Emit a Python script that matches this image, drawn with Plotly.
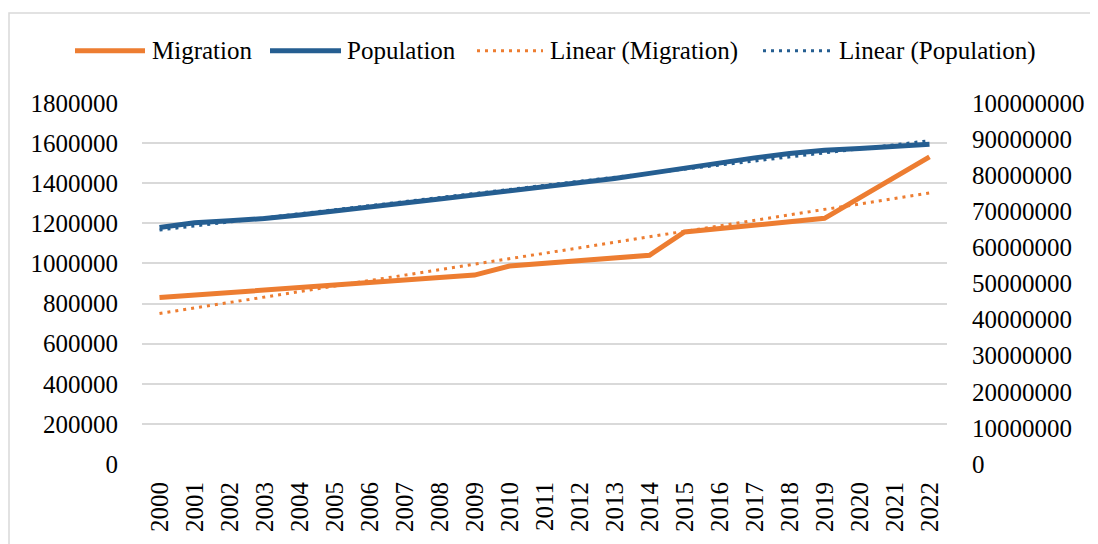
import numpy as np
import plotly.graph_objects as go

years = [str(y) for y in range(2000, 2023)]
migration = [830000, 842000, 855000, 867000, 880000, 892000, 904000, 917000, 929000, 942000,
             987000, 1001000, 1014000, 1028000, 1041000, 1157000, 1174000, 1191000, 1208000,
             1225000, 1327000, 1429000, 1531000]
population = [65500000, 66800000, 67400000, 68000000, 69000000, 70000000, 71200000, 72300000,
              73400000, 74500000, 75600000, 76800000, 77900000, 79100000, 80500000, 82000000,
              83500000, 84800000, 86000000, 86900000, 87400000, 88000000, 88600000]
left_ticks = list(range(0, 1800001, 200000))
right_ticks = list(range(0, 100000001, 10000000))

# linear trendlines (least squares, as the spreadsheet trendline does)
idx = np.arange(len(years))
mk, mb = np.polyfit(idx, migration, 1)
pk, pb = np.polyfit(idx, population, 1)
mig_trend = (mk * idx + mb).tolist()
pop_trend = (pk * idx + pb).tolist()

ORANGE = "#ED7D31"
BLUE = "#255E91"
FONT = "Times New Roman, Liberation Serif, serif"

# the page body adds an 8px margin; lay out in page pixels and shift
OFF = 8
W, H = 1098 - OFF, 544 - OFF
L, R, T, B = 142 - OFF, 947 - OFF, 102.5 - OFF, 466 - OFF


def px(x):
    return (x - OFF - L) / (R - L)


def py(y):
    return (B - (y - OFF)) / (B - T)


fig = go.Figure()
fig.add_trace(go.Scatter(x=years, y=migration, name="Migration", mode="lines",
                         line=dict(color=ORANGE, width=5), yaxis="y"))
fig.add_trace(go.Scatter(x=years, y=mig_trend, name="Linear (Migration)", mode="lines",
                         line=dict(color=ORANGE, width=3, dash="3px,5px"), yaxis="y"))
fig.add_trace(go.Scatter(x=years, y=pop_trend, name="Linear (Population)", mode="lines",
                         line=dict(color=BLUE, width=3, dash="3px,5px"), yaxis="y2"))
fig.add_trace(go.Scatter(x=years, y=population, name="Population", mode="lines",
                         line=dict(color=BLUE, width=5), yaxis="y2"))

shapes = [
    dict(type="rect", xref="paper", yref="paper", x0=px(9), x1=px(1120), y0=py(570), y1=py(12),
         line=dict(color="#d9d9d9", width=1.5), layer="below"),
]
annotations = []
legend_items = [
    ("Migration", ORANGE, None, 75, 145, 150),
    ("Population", BLUE, None, 270, 341, 345),
    ("Linear (Migration)", ORANGE, "3px,5px", 477, 543, 548),
    ("Linear (Population)", BLUE, "3px,5px", 763, 832, 837),
]
LY = 50
for name, color, dash, x0, x1, tx in legend_items:
    ln = dict(color=color, width=5 if dash is None else 3)
    if dash:
        ln["dash"] = dash
    shapes.append(dict(type="line", xref="paper", yref="paper", x0=px(x0), x1=px(x1),
                       y0=py(LY), y1=py(LY), line=ln))
    annotations.append(dict(text=name, xref="paper", yref="paper", x=px(tx), y=py(LY),
                            xanchor="left", yanchor="middle", showarrow=False,
                            font=dict(family=FONT, size=25, color="black")))

fig.update_layout(
    width=W, height=H,
    margin=dict(l=L, r=W - R, t=T, b=H - B, pad=0),
    paper_bgcolor="white", plot_bgcolor="white",
    showlegend=False,
    font=dict(family=FONT, size=25, color="black"),
    xaxis=dict(type="category", range=[-0.5, len(years) - 0.5], tickangle=-90,
               showgrid=False, showline=False, zeroline=False,
               ticks="outside", ticklen=7, tickcolor="rgba(0,0,0,0)",
               tickfont=dict(family=FONT, size=25, color="black")),
    yaxis=dict(range=[0, 1800000], tickvals=left_ticks, tickformat="d", showgrid=True,
               gridcolor="#d9d9d9", gridwidth=1.5, zeroline=False, showline=False,
               ticks="outside", ticklen=18, tickcolor="rgba(0,0,0,0)",
               tickfont=dict(family=FONT, size=25, color="black")),
    yaxis2=dict(range=[0, 100000000], tickvals=right_ticks, tickformat="d", overlaying="y",
                side="right", showgrid=False, zeroline=False, showline=False,
                ticks="outside", ticklen=19, tickcolor="rgba(0,0,0,0)",
                tickfont=dict(family=FONT, size=25, color="black")),
    shapes=shapes,
    annotations=annotations,
)

fig.write_html("out.html")
